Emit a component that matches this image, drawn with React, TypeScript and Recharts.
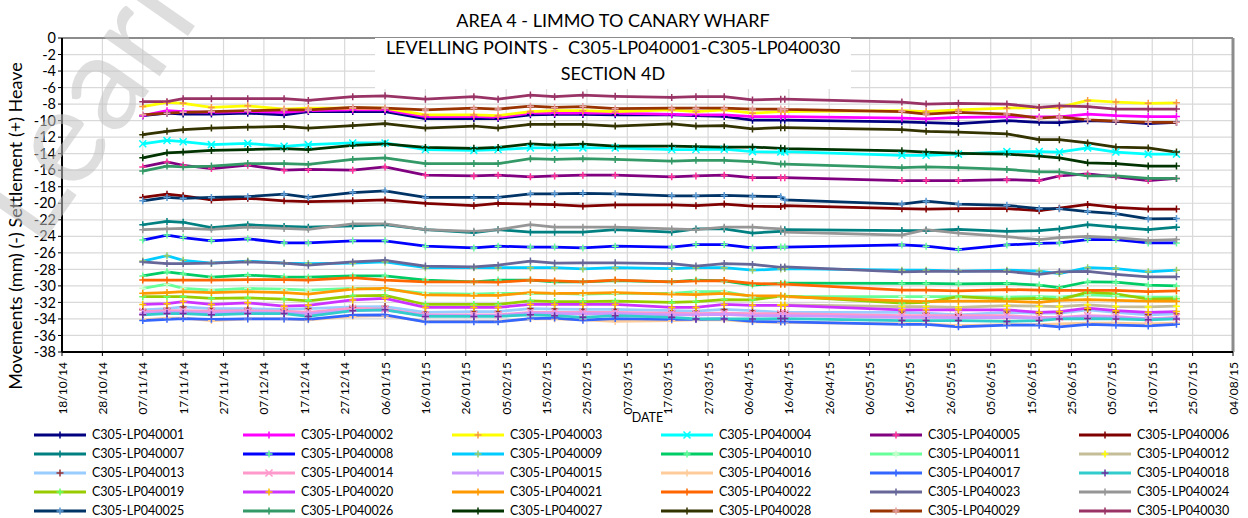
import React from "react";
import {
  LineChart,
  Line,
  XAxis,
  YAxis,
  CartesianGrid,
  ReferenceLine,
  Label,
} from "recharts";

// survey dates (dd/mm/yy)
const dates = [
  "07/11/14", "13/11/14", "17/11/14", "24/11/14", "03/12/14", "12/12/14", "18/12/14", "29/12/14",
  "06/01/15", "16/01/15", "28/01/15", "03/02/15", "11/02/15", "17/02/15", "24/02/15", "04/03/15",
  "18/03/15", "24/03/15", "31/03/15", "07/04/15", "14/04/15", "15/04/15", "14/05/15", "20/05/15",
  "28/05/15", "09/06/15", "17/06/15", "22/06/15", "29/06/15", "06/07/15", "14/07/15", "21/07/15",
];

const tickLabels = [
  "18/10/14", "28/10/14", "07/11/14", "17/11/14", "27/11/14", "07/12/14", "17/12/14", "27/12/14",
  "06/01/15", "16/01/15", "26/01/15", "05/02/15", "15/02/15", "25/02/15", "07/03/15", "17/03/15",
  "27/03/15", "06/04/15", "16/04/15", "26/04/15", "06/05/15", "16/05/15", "26/05/15", "05/06/15",
  "15/06/15", "25/06/15", "05/07/15", "15/07/15", "25/07/15", "04/08/15",
];

const yTicks = [0, -2, -4, -6, -8, -10, -12, -14, -16, -18, -20, -22, -24, -26, -28, -30, -32, -34, -36, -38];

const lp01 = [-9.4, -9.1, -9.2, -9.2, -9.1, -9.3, -8.9, -8.9, -8.9, -9.75, -9.75, -9.75, -9.3, -9.25, -9.25, -9.3, -9.3, -9.4, -9.5, -9.95, -9.95, -9.95, -10.15, -10.25, -10.35, -10.0, -10.2, -10.25, -10.0, -10.1, -10.35, -10.2];
const lp02 = [-9.4, -8.8, -8.9, -9.0, -8.9, -9.0, -8.8, -8.7, -8.7, -9.5, -9.5, -9.6, -9.1, -9.1, -9.1, -9.1, -9.25, -9.3, -9.3, -9.5, -9.5, -9.5, -9.7, -9.8, -9.6, -9.55, -9.55, -9.55, -9.2, -9.4, -9.5, -9.5];
const lp03 = [-8.3, -7.8, -7.9, -8.4, -8.2, -8.6, -8.5, -8.5, -8.5, -9.3, -9.3, -9.4, -8.9, -8.8, -8.8, -8.9, -8.7, -8.9, -8.7, -9.1, -8.9, -8.9, -8.8, -8.9, -8.7, -8.5, -8.4, -8.4, -7.55, -7.75, -7.9, -7.85];
const lp04 = [-12.8, -12.4, -12.55, -12.9, -12.75, -13.1, -12.9, -12.7, -12.7, -13.5, -13.6, -13.5, -13.3, -13.3, -13.3, -13.3, -13.5, -13.5, -13.45, -13.75, -13.8, -13.75, -14.2, -14.2, -14.05, -13.75, -13.75, -13.8, -13.3, -13.8, -14.05, -14.05];
const lp05 = [-15.6, -15.0, -15.4, -15.8, -15.4, -16.0, -15.9, -16.0, -15.6, -16.6, -16.7, -16.6, -16.8, -16.7, -16.6, -16.6, -16.8, -16.7, -16.6, -16.9, -16.9, -16.9, -17.25, -17.25, -17.25, -17.15, -17.25, -16.7, -16.45, -16.8, -17.25, -17.0];
const lp06 = [-19.3, -18.9, -19.1, -19.6, -19.4, -19.7, -19.8, -19.7, -19.6, -20.0, -20.3, -20.0, -20.1, -20.15, -20.35, -20.2, -20.2, -20.3, -20.1, -20.35, -20.4, -20.3, -20.65, -20.7, -20.65, -20.65, -20.9, -20.6, -20.15, -20.5, -20.7, -20.7];
const lp07 = [-22.6, -22.2, -22.3, -22.95, -22.6, -22.8, -22.9, -22.75, -22.6, -23.2, -23.55, -23.2, -23.5, -23.5, -23.5, -23.2, -23.5, -23.1, -23.1, -23.6, -23.4, -23.2, -23.3, -23.3, -23.15, -23.4, -23.3, -23.1, -22.6, -22.9, -23.2, -22.9];
const lp08 = [-24.45, -23.85, -24.15, -24.55, -24.3, -24.8, -24.8, -24.55, -24.55, -25.2, -25.4, -25.2, -25.3, -25.3, -25.4, -25.2, -25.3, -25.0, -25.0, -25.4, -25.3, -25.3, -25.05, -25.2, -25.6, -25.05, -24.85, -24.8, -24.4, -24.4, -24.8, -24.8];
const lp09 = [-27.0, -26.35, -26.9, -27.25, -27.0, -27.25, -27.3, -27.25, -27.1, -27.8, -27.8, -27.8, -27.8, -27.8, -27.95, -27.8, -27.9, -27.8, -27.8, -28.1, -27.95, -27.9, -28.1, -28.1, -28.2, -28.1, -28.2, -28.5, -27.8, -27.9, -28.3, -28.1];
const lp10 = [-28.8, -28.3, -28.55, -28.95, -28.7, -28.9, -28.95, -28.8, -28.8, -29.3, -29.5, -29.3, -29.3, -29.5, -29.5, -29.35, -29.5, -29.3, -29.4, -29.9, -29.7, -29.65, -29.7, -29.7, -29.75, -29.7, -29.9, -30.2, -29.5, -29.55, -29.9, -30.0];
const lp11 = [-30.3, -29.8, -30.3, -30.5, -30.3, -30.4, -30.5, -30.3, -30.4, -30.9, -31.0, -30.9, -30.9, -30.9, -31.0, -30.9, -30.9, -30.7, -30.7, -31.3, -31.3, -31.3, -31.3, -31.3, -31.3, -31.35, -31.3, -31.35, -31.1, -31.2, -31.35, -31.35];
const lp12 = [null, null, null, null, null, null, null, null, null, null, null, null, null, null, null, null, null, null, null, null, -32.3, -32.3, -32.5, -32.5, -32.6, -32.4, -32.45, -32.5, -32.3, -32.5, -32.55, -32.45];
const lp13 = [-32.9, -32.75, -32.55, -32.75, -32.75, -32.85, -32.75, -32.55, -32.5, -33.2, -33.1, -33.1, -32.75, -32.8, -32.85, -32.85, -33.0, -33.05, -32.85, -33.0, -33.2, -33.2, -33.2, -33.3, -33.5, -33.2, -33.3, -33.3, -32.9, -33.2, -33.5, -33.4];
const lp14 = [-33.1, -33.0, -33.0, -33.05, -33.0, -33.05, -33.2, -32.7, -32.8, -33.5, -33.5, -33.5, -33.2, -33.2, -33.2, -33.2, -33.3, -33.35, -33.3, -33.35, -33.35, -33.35, -33.6, -33.6, -33.6, -33.6, -33.8, -33.8, -33.6, -33.7, -34.0, -33.8];
const lp15 = [-33.3, -33.2, -33.2, -33.3, -33.2, -33.3, -33.4, -33.0, -32.9, -33.6, -33.6, -33.6, -33.3, -33.35, -33.4, -33.35, -33.5, -33.5, -33.45, -33.6, -33.6, -33.6, -33.8, -33.8, -33.85, -33.8, -33.9, -33.9, -33.7, -33.8, -34.0, -33.9];
const lp16 = [-34.1, -33.9, -33.9, -34.2, -34.0, -34.0, -34.1, -33.7, -33.6, -34.3, -34.3, -34.3, -34.0, -34.0, -34.1, -34.3, -34.2, -34.1, -34.1, -34.35, -34.4, -34.4, -34.6, -34.6, -34.8, -34.7, -34.7, -34.6, -34.5, -34.5, -34.6, -34.5];
const lp17 = [-34.2, -34.05, -33.95, -34.05, -34.0, -34.0, -34.05, -33.55, -33.5, -34.35, -34.35, -34.35, -33.95, -33.9, -34.15, -33.95, -34.05, -34.05, -34.0, -34.3, -34.35, -34.35, -34.65, -34.65, -34.95, -34.75, -34.75, -34.95, -34.65, -34.75, -34.85, -34.65];
const lp18 = [-33.5, -33.35, -33.35, -33.5, -33.35, -33.35, -33.7, -33.0, -32.9, -33.7, -33.7, -33.7, -33.5, -33.6, -33.8, -33.6, -33.8, -34.0, -34.0, -34.0, -33.95, -33.95, -34.2, -34.2, -34.2, -34.3, -34.2, -34.0, -33.95, -34.0, -34.1, -34.0];
const lp19 = [-31.3, -31.3, -31.3, -31.5, -31.45, -31.6, -31.8, -31.2, -31.15, -32.25, -32.25, -32.25, -31.8, -31.9, -31.9, -31.85, -32.0, -31.9, -31.65, -31.7, -31.25, -31.25, -32.1, -32.0, -31.3, -31.6, -31.5, -31.7, -30.75, -30.95, -31.6, -31.55];
const lp20 = [-32.25, -32.15, -31.9, -32.25, -32.05, -32.45, -32.35, -31.7, -31.5, -32.6, -32.6, -32.6, -32.25, -32.25, -32.25, -32.25, -32.6, -32.6, -32.25, -32.35, -32.35, -32.35, -32.9, -32.9, -32.9, -32.9, -33.2, -33.1, -32.7, -33.0, -33.2, -33.1];
const lp21 = [-30.9, -30.8, -30.7, -30.8, -30.7, -30.8, -31.0, -30.4, -30.3, -31.1, -31.15, -31.15, -30.8, -30.9, -30.9, -30.8, -31.0, -31.05, -30.9, -31.2, -31.2, -31.3, -31.8, -31.9, -31.85, -31.85, -32.0, -31.75, -31.65, -31.75, -31.85, -31.85];
const lp22 = [-29.3, -29.3, -29.3, -29.3, -29.25, -29.25, -29.3, -29.0, -29.3, -29.5, -29.5, -29.55, -29.3, -29.4, -29.5, -29.3, -29.5, -29.4, -29.35, -29.7, -29.8, -29.8, -30.5, -30.5, -30.6, -30.45, -30.5, -30.55, -30.55, -30.55, -30.7, -30.6];
const lp23 = [-27.1, -27.3, -27.3, -27.25, -27.1, -27.25, -27.5, -27.1, -26.9, -27.6, -27.7, -27.5, -27.0, -27.25, -27.2, -27.2, -27.3, -27.6, -27.3, -27.4, -27.75, -27.7, -28.3, -28.25, -28.25, -28.25, -28.6, -28.3, -28.25, -28.6, -28.9, -28.9];
const lp24 = [-23.2, -23.1, -23.05, -23.15, -22.9, -23.05, -23.15, -22.5, -22.5, -23.2, -23.4, -23.2, -22.6, -22.9, -22.9, -22.9, -23.1, -23.2, -22.9, -22.9, -23.1, -23.5, -23.85, -23.2, -23.6, -24.05, -24.4, -24.15, -24.0, -24.15, -24.5, -24.4];
const lp25 = [-19.7, -19.3, -19.4, -19.3, -19.2, -18.9, -19.3, -18.7, -18.5, -19.3, -19.3, -19.3, -18.85, -18.85, -18.8, -18.85, -19.1, -19.1, -19.05, -19.15, -19.2, -19.6, -20.1, -19.75, -20.1, -20.25, -20.65, -20.65, -21.0, -21.25, -21.9, -21.85];
const lp26 = [-16.1, -15.5, -15.6, -15.5, -15.2, -15.2, -15.3, -14.7, -14.5, -15.2, -15.2, -15.2, -14.6, -14.7, -14.6, -14.7, -14.9, -14.8, -14.8, -14.95, -15.25, -15.25, -15.7, -15.6, -15.7, -15.9, -16.2, -16.2, -16.7, -16.7, -17.0, -17.0];
const lp27 = [-14.5, -13.9, -13.8, -13.6, -13.5, -13.4, -13.5, -13.0, -12.8, -13.25, -13.35, -13.25, -12.8, -12.95, -12.85, -13.1, -13.1, -13.15, -13.2, -13.2, -13.35, -13.4, -13.65, -13.8, -13.95, -14.05, -14.3, -14.5, -15.1, -15.2, -15.5, -15.5];
const lp28 = [-11.7, -11.3, -11.1, -10.9, -10.8, -10.7, -10.9, -10.6, -10.35, -10.9, -10.65, -10.9, -10.45, -10.45, -10.45, -10.65, -10.4, -10.65, -10.6, -11.0, -10.85, -10.85, -11.1, -11.3, -11.4, -11.6, -12.3, -12.3, -12.7, -13.2, -13.3, -13.8];
const lp29 = [-9.3, -9.1, -9.0, -8.9, -8.8, -8.7, -8.7, -8.4, -8.5, -8.7, -8.5, -8.6, -8.25, -8.4, -8.3, -8.55, -8.5, -8.5, -8.5, -8.6, -8.6, -8.65, -8.9, -9.2, -9.0, -9.2, -9.7, -9.55, -9.9, -10.05, -10.2, -10.2];
const lp30 = [-7.7, -7.7, -7.35, -7.35, -7.35, -7.35, -7.55, -7.1, -7.0, -7.4, -7.1, -7.4, -6.9, -7.1, -6.9, -7.05, -7.2, -7.1, -7.1, -7.5, -7.4, -7.4, -7.75, -8.0, -7.9, -8.0, -8.4, -8.2, -8.3, -8.6, -8.6, -8.6];

const values = [
  lp01, lp02, lp03, lp04, lp05, lp06, lp07, lp08, lp09, lp10,
  lp11, lp12, lp13, lp14, lp15, lp16, lp17, lp18, lp19, lp20,
  lp21, lp22, lp23, lp24, lp25, lp26, lp27, lp28, lp29, lp30,
];

const names = values.map((_, i) => `C305-LP0400${String(i + 1).padStart(2, "0")}`);

// [line colour, marker colour, marker shape]
const styles: [string, string, "plus" | "x"][] = [
  ["#000080", "#000080", "plus"],
  ["#FF00FF", "#FF00FF", "plus"],
  ["#FFFF00", "#F79646", "plus"],
  ["#00FFFF", "#00FFFF", "x"],
  ["#800080", "#FF3399", "plus"],
  ["#800000", "#800000", "plus"],
  ["#008080", "#008080", "plus"],
  ["#0000FF", "#66FF99", "plus"],
  ["#00CCFF", "#99CC66", "plus"],
  ["#00CC66", "#66FF99", "plus"],
  ["#66FF99", "#CCFFCC", "plus"],
  ["#C4BD97", "#FFFF00", "plus"],
  ["#99CCFF", "#993333", "plus"],
  ["#FF99CC", "#FF99CC", "x"],
  ["#CC99FF", "#CC99FF", "plus"],
  ["#FFCC99", "#FFCC99", "plus"],
  ["#3366FF", "#3366FF", "plus"],
  ["#33CCCC", "#7030A0", "plus"],
  ["#99CC00", "#66FF66", "plus"],
  ["#CC33FF", "#FFC000", "plus"],
  ["#FF9900", "#FF9900", "plus"],
  ["#FF6600", "#FF6600", "plus"],
  ["#666699", "#666699", "plus"],
  ["#969696", "#969696", "plus"],
  ["#003366", "#5B9BD5", "plus"],
  ["#339966", "#339966", "plus"],
  ["#003300", "#003300", "plus"],
  ["#333300", "#333300", "plus"],
  ["#993300", "#E6A0A0", "plus"],
  ["#993366", "#993366", "plus"],
];

const toTime = (s: string) => {
  const [d, m, y] = s.split("/").map(Number);
  return Date.UTC(2000 + y, m - 1, d);
};

const xTicks = tickLabels.map(toTime);
const labelByTime = new Map(tickLabels.map((l) => [toTime(l), l]));

const data = dates.map((d, i) => {
  const row: Record<string, number | null> = { t: toTime(d) };
  values.forEach((arr, k) => {
    row[`s${k}`] = arr[i];
  });
  return row;
});

const FONT = "Lato, 'Liberation Sans', sans-serif";

const markerPath = (cx: number, cy: number, shape: "plus" | "x", r: number) =>
  shape === "plus"
    ? `M${cx - r},${cy}H${cx + r}M${cx},${cy - r}V${cy + r}`
    : `M${cx - r},${cy - r}L${cx + r},${cy + r}M${cx - r},${cy + r}L${cx + r},${cy - r}`;

const makeDot = (color: string, shape: "plus" | "x") => (p: any) => {
  const { cx, cy, index, value } = p;
  if (cx == null || cy == null || value == null || Number.isNaN(cy)) return <g key={index} />;
  return (
    <path key={index} d={markerPath(cx, cy, shape, 3.5)} stroke={color} strokeWidth={1.5} fill="none" />
  );
};

const XTick = (props: any) => {
  const { x, y, payload } = props;
  return (
    <text
      x={x}
      y={y + 4}
      transform={`rotate(-90 ${x} ${y + 4})`}
      textAnchor="end"
      dominantBaseline="central"
      fontSize={12}
      fontFamily={FONT}
      fill="#000"
    >
      {labelByTime.get(payload.value) ?? ""}
    </text>
  );
};

const YTitle = () => (
  <text
    x={15}
    y={226}
    transform="rotate(-90 15 226)"
    textAnchor="middle"
    dominantBaseline="central"
    fontSize={18}
    fontFamily={FONT}
    fill="#000"
  >
    Movements (mm) (-) Settlement (+) Heave
  </text>
);

function LegendGrid() {
  return (
    <div style={{ position: "absolute", left: 0, top: 0, width: 1248 }}>
      {names.map((n, i) => {
        const [line, mark, shape] = styles[i];
        const col = i % 6;
        const row = Math.floor(i / 6);
        return (
          <div
            key={n}
            style={{
              position: "absolute",
              left: 34 + col * 209,
              top: 428 + row * 19,
              height: 14,
              lineHeight: "14px",
              display: "flex",
              alignItems: "center",
              fontFamily: FONT,
              fontSize: 12.5,
              color: "#000",
              whiteSpace: "nowrap",
            }}
          >
            <svg width={52} height={10} style={{ marginRight: 6 }}>
              <line x1={0} y1={5} x2={52} y2={5} stroke={line} strokeWidth={3} />
              <path d={markerPath(26, 5, shape, 3.5)} stroke={mark} strokeWidth={1.5} fill="none" />
            </svg>
            {n}
          </div>
        );
      })}
    </div>
  );
}

export default function App() {
  return (
    <div
      style={{
        position: "absolute",
        left: 0,
        top: 0,
        width: 1248,
        height: 518,
        background: "#fff",
        overflow: "hidden",
        fontFamily: FONT,
      }}
    >
      <LineChart
        width={1248}
        height={425}
        data={data}
        margin={{ top: 38, right: 15, bottom: 0, left: 0 }}
      >
        <CartesianGrid stroke="#D9D9D9" strokeWidth={1.2} />
        <XAxis
          dataKey="t"
          type="number"
          domain={[xTicks[0], xTicks[xTicks.length - 1]]}
          ticks={xTicks}
          interval={0}
          height={73}
          tick={<XTick />}
          tickSize={4}
          axisLine={{ stroke: "#000", strokeWidth: 2 }}
          tickLine={{ stroke: "#000" }}
          label={{ value: "DATE", position: "insideBottom", offset: 3, fontSize: 12.5, fill: "#000", fontFamily: FONT }}
        />
        <YAxis
          type="number"
          domain={[-38, 0]}
          ticks={yTicks}
          interval={0}
          width={62}
          tickSize={4}
          tick={{ fontSize: 14.5, fill: "#000", fontFamily: FONT }}
          axisLine={{ stroke: "#000", strokeWidth: 2 }}
          tickLine={{ stroke: "#000" }}
        >
          <Label content={YTitle} />
        </YAxis>
        <ReferenceLine y={0} stroke="#8C8C8C" strokeWidth={2} />
        <ReferenceLine x={xTicks[xTicks.length - 1]} stroke="#8C8C8C" strokeWidth={3} />
        {names.map((n, k) => (
          <Line
            key={n}
            name={n}
            dataKey={`s${k}`}
            type="linear"
            stroke={styles[k][0]}
            strokeWidth={2.75}
            dot={makeDot(styles[k][1], styles[k][2])}
            activeDot={false}
            connectNulls={false}
            isAnimationActive={false}
          />
        ))}
      </LineChart>

      {/* title block sits over the plot area with a white fill */}
      <div
        style={{
          position: "absolute",
          left: 375,
          top: 38,
          width: 476,
          height: 51,
          background: "#fff",
        }}
      />
      <div
        style={{
          position: "absolute",
          left: 300,
          top: 7,
          width: 626,
          textAlign: "center",
          fontSize: 18,
          lineHeight: "26.5px",
          color: "#000",
          whiteSpace: "pre",
        }}
      >
        {"AREA 4 - LIMMO TO CANARY WHARF\nLEVELLING POINTS -  C305-LP040001-C305-LP040030\nSECTION 4D"}
      </div>

      {/* watermark */}
      <svg
        width={1248}
        height={518}
        style={{ position: "absolute", left: 0, top: 0, pointerEvents: "none" }}
      >
        <text
          x={38}
          y={250}
          transform="rotate(-55 38 250)"
          fontSize={135}
          fontFamily={FONT}
          fill="rgba(195,195,195,0.55)"
        >
          Learn
        </text>
      </svg>

      <LegendGrid />
    </div>
  );
}
